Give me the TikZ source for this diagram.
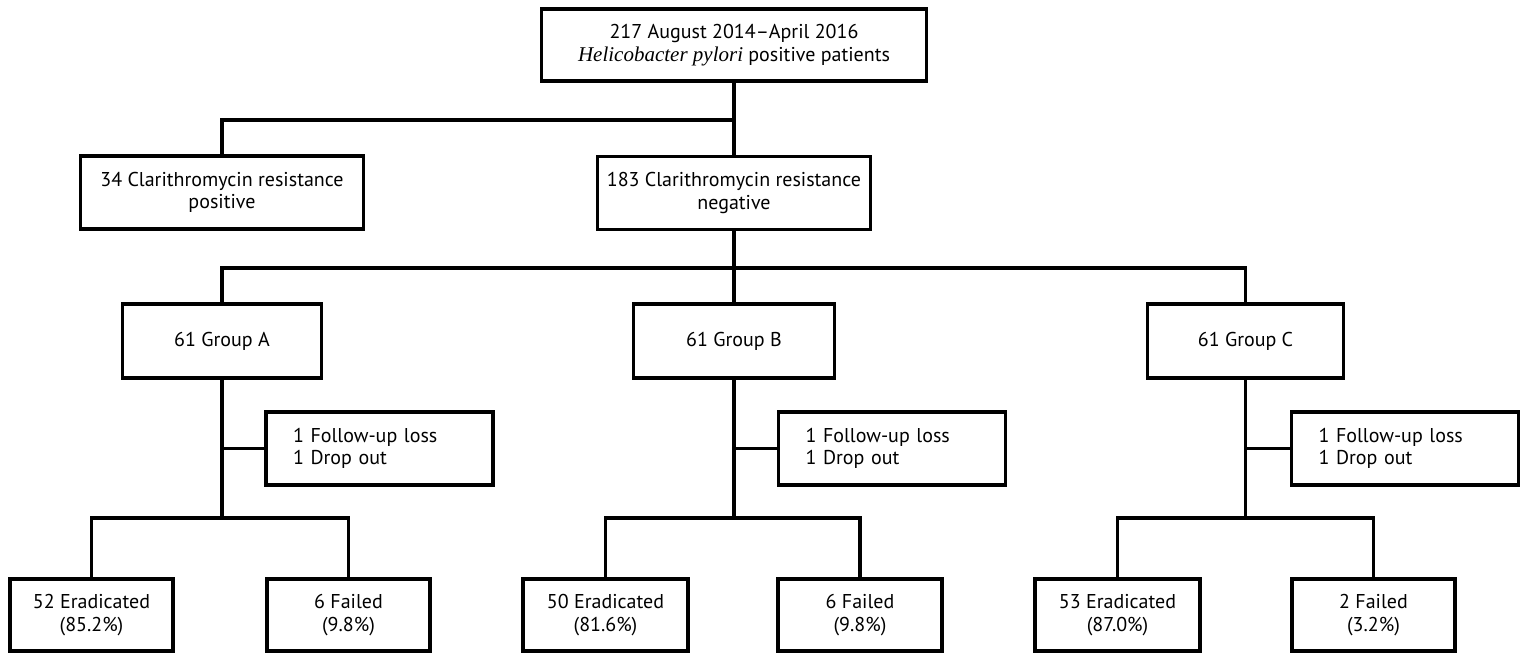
\documentclass[tikz,border=0pt]{standalone}
\usepackage{fontspec}
\setmainfont{PT Sans}
\newfontfamily\itserif{Liberation Serif}
\begin{document}
\begin{tikzpicture}[x=1pt,y=-1pt,
  box/.style={draw,line width=3.6pt,align=center,inner sep=0pt,
    font=\fontsize{20}{22.5}\selectfont},
  sidebox/.style={draw,line width=3.6pt,align=left,inner xsep=27pt,inner ysep=0pt,
    text width=173pt,minimum height=73pt,font=\fontsize{20}{22.5}\selectfont},
  conn/.style={line width=3.6pt}]
\useasboundingbox (0,0) rectangle (1529,660);
% nodes
\node[box,minimum width=385pt,minimum height=72pt] (top) at (734,45)
  {217 August 2014--April 2016\\{\itserif\itshape\fontsize{21}{22.5}\selectfont Helicobacter pylori} positive patients};
\node[box,minimum width=283pt,minimum height=73pt] (pos) at (222,192.5)
  {34 Clarithromycin resistance\\positive};
\node[box,minimum width=273pt,minimum height=73pt] (neg) at (734,193)
  {183 Clarithromycin resistance\\negative};
\node[box,minimum width=199pt,minimum height=74pt] (ga) at (222,341) {61 Group A};
\node[box,minimum width=201pt,minimum height=74pt] (gb) at (734,341) {61 Group B};
\node[box,minimum width=196pt,minimum height=74pt] (gc) at (1245.5,341) {61 Group C};
\node[sidebox] (sa) at (379.5,448.5) {1 Follow-up loss\\1 Drop out};
\node[sidebox] (sb) at (892,448.5) {1 Follow-up loss\\1 Drop out};
\node[sidebox] (sc) at (1405,448.5) {1 Follow-up loss\\1 Drop out};
\node[box,minimum width=163pt,minimum height=72pt] (ea) at (91.5,615) {52 Eradicated\\(85.2\%)};
\node[box,minimum width=163pt,minimum height=72pt] (fa) at (348.5,615) {6 Failed\\(9.8\%)};
\node[box,minimum width=165pt,minimum height=72pt] (eb) at (605.5,615) {50 Eradicated\\(81.6\%)};
\node[box,minimum width=164pt,minimum height=72pt] (fb) at (860,615) {6 Failed\\(9.8\%)};
\node[box,minimum width=165pt,minimum height=72pt] (ec) at (1117.5,615) {53 Eradicated\\(87.0\%)};
\node[box,minimum width=163pt,minimum height=72pt] (fc) at (1373.5,615) {2 Failed\\(3.2\%)};
% connectors
\draw[conn] (top.south) -- (top.south |- 0,120) coordinate (j1);
\draw[conn] (pos.north) |- (j1) -- (neg.north);
\draw[conn] (neg.south) -- (neg.south |- 0,268) coordinate (j2);
\draw[conn] (ga.north) |- (j2) -| (gc.north);
\draw[conn] (j2) -- (gb.north);
\draw[conn] (ga.south) -- (ga.south |- 0,518) coordinate (ja);
\draw[conn] (gb.south) -- (gb.south |- 0,518) coordinate (jb);
\draw[conn] (gc.south) -- (gc.south |- 0,518) coordinate (jc);
\draw[conn] (ga.south |- sa.west) -- (sa.west);
\draw[conn] (gb.south |- sb.west) -- (sb.west);
\draw[conn] (gc.south |- sc.west) -- (sc.west);
\draw[conn] (ea.north) |- (ja) -| (fa.north);
\draw[conn] (eb.north) |- (jb) -| (fb.north);
\draw[conn] (ec.north) |- (jc) -| (fc.north);
\end{tikzpicture}
\end{document}
